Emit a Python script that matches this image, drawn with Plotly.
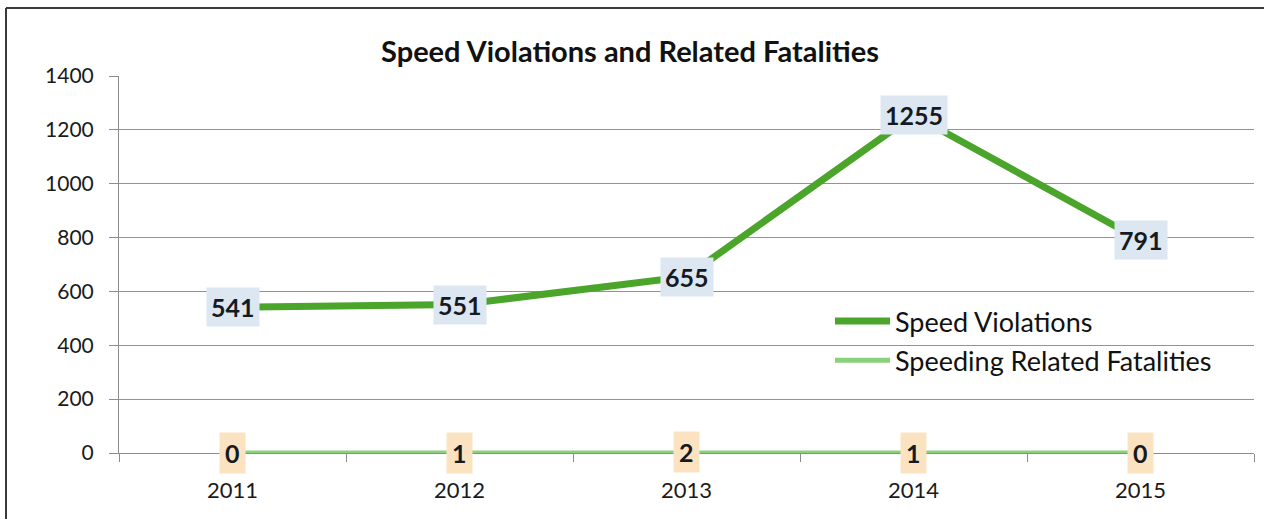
import plotly.graph_objects as go

years = ["2011", "2012", "2013", "2014", "2015"]
speed_violations = [541, 551, 655, 1255, 791]
fatalities = [0, 1, 2, 1, 0]
y_ticks = [0, 200, 400, 600, 800, 1000, 1200, 1400]

FONT = "Lato"
SV_COLOR = "#4AA52A"
FA_COLOR = "#8AD17B"
GRID = "#8497A8"
AXIS = "#8C8C8C"

fig = go.Figure()
fig.add_trace(go.Scatter(
    x=years, y=speed_violations, mode="lines", name="Speed Violations",
    line=dict(color=SV_COLOR, width=7), legendgroup="a", hoverinfo="skip"))
fig.add_trace(go.Scatter(
    x=years, y=fatalities, mode="lines", name="Speeding Related Fatalities",
    line=dict(color=FA_COLOR, width=5), legendgroup="b", hoverinfo="skip"))

for i, v in enumerate(speed_violations):
    fig.add_annotation(x=i, y=v, xref="x", yref="y", text=f"<b>{v}</b>",
                       showarrow=False, bgcolor="#DCE7F2", borderpad=4,
                       font=dict(family=FONT, size=25, color="#151a22"))
for i, v in enumerate(fatalities):
    fig.add_annotation(x=i, y=v, xref="x", yref="y", text=f"<b>{v}</b>",
                       showarrow=False, bgcolor="#FBE3C2", borderpad=5,
                       font=dict(family=FONT, size=25, color="#151a22"))

W, H = 1264, 519
L, R, T, B = 119, 10, 76, 66
pw, ph = W - L - R, H - T - B
def px(x):
    return (x - L) / pw
def py(y):
    return (H - B - y) / ph

shapes = [
    dict(type="line", xref="paper", yref="paper", x0=px(6), x1=px(1270), y0=py(8), y1=py(8),
         line=dict(color="#3a3a3a", width=2)),
    dict(type="line", xref="paper", yref="paper", x0=px(6), x1=px(6), y0=py(8), y1=py(525),
         line=dict(color="#3a3a3a", width=2)),
]

fig.update_layout(
    width=W, height=H,
    margin=dict(l=L, r=R, t=T, b=B),
    paper_bgcolor="white", plot_bgcolor="white",
    font=dict(family=FONT, color="#1a1a1a"),
    title=dict(text="<b>Speed Violations and Related Fatalities</b>", x=630 / W, xref="container",
               y=1 - 52 / H, yref="container", xanchor="center", yanchor="middle",
               font=dict(family=FONT, size=29, color="#111111")),
    showlegend=True,
    legend=dict(x=px(830), y=py(297), xanchor="left", yanchor="top", bgcolor="rgba(0,0,0,0)",
                font=dict(family=FONT, size=27, color="#111111"), tracegroupgap=1,
                traceorder="grouped", itemwidth=55),
    shapes=shapes,
    xaxis=dict(type="category", range=[-0.5, 4.5], showgrid=False, showline=True,
               linecolor=AXIS, linewidth=1, ticks="outside", tickson="boundaries",
               ticklen=8, tickcolor=AXIS, ticklabelstandoff=18,
               tickfont=dict(family=FONT, size=22, color="#1a1a1a"), fixedrange=True),
    yaxis=dict(range=[0, 1400], tickvals=y_ticks, showgrid=True, gridcolor=GRID, gridwidth=1,
               showline=True, linecolor=AXIS, linewidth=1, ticks="outside", ticklen=9,
               tickcolor=AXIS, zeroline=False, ticklabelstandoff=11,
               tickfont=dict(family=FONT, size=21, color="#1a1a1a"), fixedrange=True),
)

fig.write_html("out.html", post_script="document.body.style.margin='0';",
               config={"displayModeBar": False})
